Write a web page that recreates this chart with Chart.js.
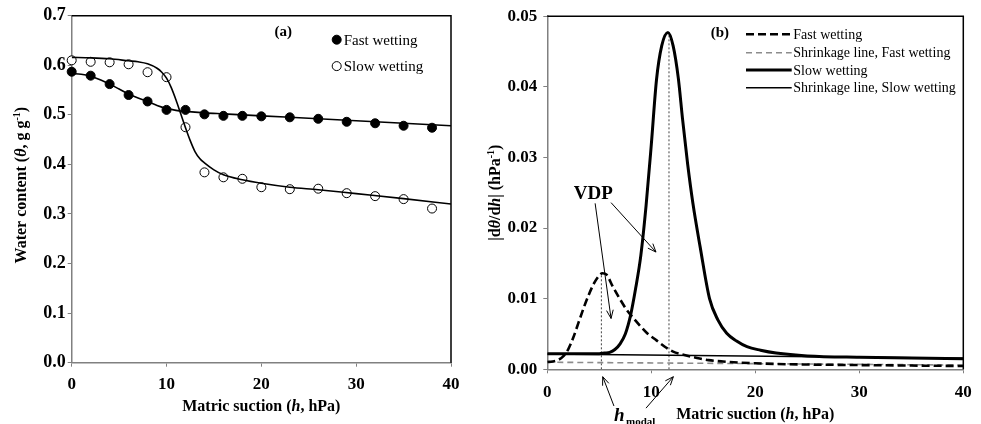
<!DOCTYPE html>
<html>
<head>
<meta charset="utf-8">
<script src="https://cdn.jsdelivr.net/npm/chart.js@4.4.1/dist/chart.umd.min.js"></script>
<style>
body { margin: 0; background: #fff; width: 981px; height: 424px; overflow: hidden; position: relative; }
#wrapA { position: absolute; left: 0; top: 0; width: 490px; height: 424px; }
#wrapB { position: absolute; left: 470px; top: 0; width: 511px; height: 424px; }
</style>
</head>
<body>
<div id="wrapA"><canvas id="chartA"></canvas></div>
<div id="wrapB"><canvas id="chartB"></canvas></div>
<script>
/*------------------------------ data ------------------------------*/
// (a) measured water content
const hMeas = [0, 2, 4, 6, 8, 10, 12, 14, 16, 18, 20, 23, 26, 29, 32, 35, 38];
const thetaFast = [0.587, 0.579, 0.562, 0.540, 0.527, 0.510, 0.510, 0.501, 0.498, 0.498, 0.497, 0.495, 0.492, 0.486, 0.483, 0.478, 0.474];
const thetaSlow = [0.610, 0.607, 0.606, 0.602, 0.586, 0.576, 0.475, 0.384, 0.374, 0.371, 0.354, 0.350, 0.351, 0.342, 0.336, 0.330, 0.311];

// (a) fitted curves
const fitFastH = [0, 1, 2, 3, 4, 5, 6, 7, 8, 9, 10, 11, 12, 14, 16, 20, 25, 30, 35, 40];
const fitFast = [0.583, 0.582, 0.578, 0.571, 0.562, 0.552, 0.542, 0.534, 0.527, 0.519, 0.513, 0.509, 0.507, 0.504, 0.502, 0.498, 0.493, 0.488, 0.483, 0.478];
const fitSlowH = [0, 2, 4, 6, 7, 8, 9, 9.5, 10, 10.5, 11, 11.5, 12, 12.5, 13, 13.5, 14, 15, 16, 18, 20, 23, 26, 30, 35, 40];
const fitSlow = [0.616, 0.615, 0.613, 0.609, 0.607, 0.603, 0.594, 0.586, 0.574, 0.555, 0.530, 0.502, 0.474, 0.448, 0.426, 0.412, 0.403, 0.389, 0.379, 0.369, 0.362, 0.354, 0.349, 0.341, 0.331, 0.320];

// (b) |dθ/dh|
const dFastH = [0, 0.5, 1, 1.5, 2, 2.5, 3, 3.5, 4, 4.5, 5, 5.3, 5.7, 6.3, 7, 7.6, 8.3, 8.9, 9.6, 10.5, 11.3, 12.1, 13, 14.4, 15.5, 16.9, 18.5, 20, 23, 26.5, 30, 35, 40];
const dFast = [0.00103, 0.0011, 0.0013, 0.0018, 0.0028, 0.0045, 0.0066, 0.0087, 0.0106, 0.0122, 0.0133, 0.0136, 0.0134, 0.0117, 0.0099, 0.0085, 0.0072, 0.0062, 0.0051, 0.0041, 0.0032, 0.0025, 0.0021, 0.0016, 0.0013, 0.0011, 0.00095, 0.00085, 0.00072, 0.00065, 0.0006, 0.00053, 0.00047];
const dSlowH = [0, 2, 4, 5, 5.5, 6, 6.5, 7, 7.5, 8, 8.5, 9, 9.5, 10, 10.5, 11, 11.6, 12.1, 12.6, 13, 13.5, 14, 14.7, 15.6, 16.4, 17.25, 18.2, 19.2, 20.5, 22, 25, 30, 35, 40];
const dSlow = [0.0022, 0.0022, 0.0022, 0.0022, 0.0023, 0.0024, 0.0028, 0.0036, 0.0050, 0.0076, 0.0115, 0.0162, 0.0232, 0.0318, 0.0410, 0.0458, 0.0477, 0.0458, 0.0412, 0.0355, 0.0290, 0.0235, 0.0173, 0.0100, 0.0070, 0.0051, 0.0040, 0.0032, 0.0027, 0.0023, 0.0019, 0.0017, 0.0016, 0.0015];

// shrinkage lines
const shrinkH = [0, 40];
const shrinkFast = [0.0010, 0.0006];
const shrinkSlow = [0.00218, 0.00155];

// modal suction
const modalH = [5.2, 11.7];
const modalPeak = [0.0136, 0.0477];

const seriesA = ['Fast wetting', 'Slow wetting'];
const seriesB = ['Fast wetting', 'Shrinkage line, Fast wetting', 'Slow wetting', 'Shrinkage line, Slow wetting'];
const xTicks = [0, 10, 20, 30, 40];
const yTicksA = [0, 0.1, 0.2, 0.3, 0.4, 0.5, 0.6, 0.7];
const yTicksB = [0, 0.01, 0.02, 0.03, 0.04, 0.05];

/*----------------------------- helpers -----------------------------*/
const SERIF = "'Liberation Serif', 'Times New Roman', serif";
const pts = (xs, ys) => xs.map((x, i) => ({ x: x, y: ys[i] }));

// 粗體文字, 可含斜體/上下標
function richText(ctx, segs, x, y, angle, size) {
    ctx.save();
    ctx.translate(x, y);
    ctx.rotate(angle);
    let w = 0;
    const parts = segs.map(s => {
        const sz = (s.sup || s.sub) ? size * 0.62 : size;
        const font = (s.i ? 'italic ' : '') + (s.n ? '' : 'bold ') + sz + 'px ' + SERIF;
        ctx.font = font;
        const pw = ctx.measureText(s.t).width;
        w += pw;
        return { s: s, font: font, pw: pw };
    });
    let cx = -w / 2;
    ctx.textBaseline = 'alphabetic';
    ctx.textAlign = 'left';
    ctx.fillStyle = '#000';
    parts.forEach(p => {
        ctx.font = p.font;
        const dy = p.s.sup ? -size * 0.4 : (p.s.sub ? size * 0.25 : 0);
        ctx.fillText(p.s.t, cx, dy);
        cx += p.pw;
    });
    ctx.restore();
}

function arrow(ctx, x1, y1, x2, y2) {
    const a = Math.atan2(y2 - y1, x2 - x1);
    const L = 9, sp = 0.38;
    ctx.beginPath();
    ctx.moveTo(x1, y1);
    ctx.lineTo(x2, y2);
    ctx.moveTo(x2 - L * Math.cos(a - sp), y2 - L * Math.sin(a - sp));
    ctx.lineTo(x2, y2);
    ctx.lineTo(x2 - L * Math.cos(a + sp), y2 - L * Math.sin(a + sp));
    ctx.stroke();
}

function frame(chart) {
    const ctx = chart.ctx, a = chart.chartArea;
    ctx.save();
    ctx.strokeStyle = '#000';
    ctx.lineWidth = 1.5;
    ctx.beginPath();
    ctx.moveTo(a.left, a.top);
    ctx.lineTo(a.right, a.top);
    ctx.lineTo(a.right, a.bottom);
    ctx.stroke();
    ctx.restore();
}

function axisX(ticks, fontSize, tl, pad, h) {
    return {
        type: 'linear', min: 0, max: 40,
        afterFit: s => { s.height = h; },
        afterBuildTicks: s => { s.ticks = ticks.map(v => ({ value: v })); },
        ticks: { color: '#000', padding: pad, autoSkip: false, maxRotation: 0,
            font: { family: SERIF, size: fontSize, weight: 'bold' } },
        grid: { drawOnChartArea: false, tickLength: tl, color: '#808080' },
        border: { color: '#808080', width: 1.5 }
    };
}

function axisY(ticks, max, digits, fontSize, tl, pad, w) {
    return {
        type: 'linear', min: 0, max: max,
        afterFit: s => { s.width = w; },
        afterBuildTicks: s => { s.ticks = ticks.map(v => ({ value: v })); },
        ticks: { color: '#000', padding: pad, autoSkip: false,
            callback: v => Number(v).toFixed(digits),
            font: { family: SERIF, size: fontSize, weight: 'bold' } },
        grid: { drawOnChartArea: false, tickLength: tl, color: '#808080' },
        border: { color: '#808080', width: 1.5 }
    };
}

/*------------------------------ chart a ------------------------------*/
const decoA = {
    id: 'decoA',
    afterDraw(chart) {
        const ctx = chart.ctx, a = chart.chartArea;
        const xs = chart.scales.x, ys = chart.scales.y;
        frame(chart);
        // panel label
        richText(ctx, [{ t: '(a)' }], xs.getPixelForValue(22.3), ys.getPixelForValue(0.669) + 5, 0, 15);
        // axis titles
        richText(ctx, [{ t: 'Matric suction (' }, { t: 'h', i: true }, { t: ', hPa)' }],
            (a.left + a.right) / 2, 411, 0, 16);
        richText(ctx, [{ t: 'Water content (' }, { t: 'θ', i: true }, { t: ', g g' }, { t: '-1', sup: true }, { t: ')' }],
            26, (a.top + a.bottom) / 2 - 4, -Math.PI / 2, 16);
        // legend
        ctx.save();
        ctx.font = '15px ' + SERIF;
        ctx.textBaseline = 'middle';
        ctx.fillStyle = '#000';
        seriesA.forEach((name, i) => {
            const ds = chart.data.datasets[i + 2];
            const mx = a.left + 265, my = a.top + 24 + i * 26.4;
            ctx.beginPath();
            ctx.arc(mx, my, 4.5, 0, Math.PI * 2);
            ctx.fillStyle = ds.pointBackgroundColor;
            ctx.fill();
            ctx.lineWidth = 1;
            ctx.strokeStyle = '#000';
            ctx.stroke();
            ctx.fillStyle = '#000';
            ctx.fillText(name, mx + 7, my + 1);
        });
        ctx.restore();
    }
};

new Chart(document.getElementById('chartA'), {
    type: 'scatter',
    data: {
        datasets: [
            { label: 'fit fast', data: pts(fitFastH, fitFast), showLine: true, pointRadius: 0,
              borderColor: '#000', borderWidth: 1.6, cubicInterpolationMode: 'monotone' },
            { label: 'fit slow', data: pts(fitSlowH, fitSlow), showLine: true, pointRadius: 0,
              borderColor: '#000', borderWidth: 1.6, cubicInterpolationMode: 'monotone' },
            { label: seriesA[0], data: pts(hMeas, thetaFast), pointRadius: 4.5, pointBackgroundColor: '#000',
              pointBorderColor: '#000', pointBorderWidth: 1, clip: false },
            { label: seriesA[1], data: pts(hMeas, thetaSlow), pointRadius: 4.5, pointBackgroundColor: '#fff',
              pointBorderColor: '#000', pointBorderWidth: 1, clip: false }
        ]
    },
    options: {
        responsive: true,
        maintainAspectRatio: false,
        animation: false,
        layout: { padding: { left: 0, top: 15.7, right: 39, bottom: 0 } },
        plugins: { legend: { display: false }, tooltip: { enabled: false } },
        scales: {
            x: axisX(xTicks, 17, 4, 8, 61.3),
            y: axisY(yTicksA, 0.7, 1, 18, 4, 2, 71.7)
        }
    },
    plugins: [decoA]
});

/*------------------------------ chart b ------------------------------*/
const styleB = [
    { color: '#000', width: 2.6, dash: [8, 4] },
    { color: '#8c8c8c', width: 1.6, dash: [6, 4] },
    { color: '#000', width: 3, dash: [] },
    { color: '#000', width: 1.5, dash: [] }
];

const decoB = {
    id: 'decoB',
    afterDraw(chart) {
        const ctx = chart.ctx, a = chart.chartArea;
        const xs = chart.scales.x, ys = chart.scales.y;
        const px = h => xs.getPixelForValue(h), py = v => ys.getPixelForValue(v);
        frame(chart);
        richText(ctx, [{ t: '(b)' }], px(16.6), py(0.0477) + 5, 0, 15);
        richText(ctx, [{ t: 'Matric suction (' }, { t: 'h', i: true }, { t: ', hPa)' }],
            (a.left + a.right) / 2, 419, 0, 16);
        richText(ctx, [{ t: '|d' }, { t: 'θ', i: true }, { t: '/d' }, { t: 'h', i: true }, { t: '| (hPa' },
            { t: '-1', sup: true }, { t: ')' }],
            30, (a.top + a.bottom) / 2, -Math.PI / 2, 16);
        // annotations
        ctx.save();
        ctx.strokeStyle = '#000';
        ctx.lineWidth = 1;
        richText(ctx, [{ t: 'VDP' }], px(4.42), py(0.0250) + 6, 0, 19);
        arrow(ctx, px(4.6), py(0.0235), px(6.13), py(0.0072));
        arrow(ctx, px(6.13), py(0.0236), px(10.45), py(0.0166));
        arrow(ctx, px(6.41), py(-0.0052), px(5.33), py(-0.00105));
        arrow(ctx, px(9.49), py(-0.0055), px(12.12), py(-0.00105));
        ctx.restore();
        ctx.save();
        ctx.fillStyle = '#000';
        ctx.textBaseline = 'alphabetic';
        ctx.font = 'italic bold 19px ' + SERIF;
        ctx.fillText('h', px(6.41), 421);
        ctx.font = 'bold 11px ' + SERIF;
        ctx.fillText('modal', px(6.41) + 12, 425);
        ctx.restore();
        // legend
        ctx.save();
        ctx.font = '14px ' + SERIF;
        ctx.textBaseline = 'middle';
        ctx.fillStyle = '#000';
        const lx = 746 - 470, rows = [34.3, 52.7, 70, 87.7];
        seriesB.forEach((name, i) => {
            const st = styleB[i];
            ctx.beginPath();
            ctx.setLineDash(st.dash);
            ctx.strokeStyle = st.color;
            ctx.lineWidth = st.width;
            ctx.moveTo(lx, rows[i]);
            ctx.lineTo(lx + 45.7, rows[i]);
            ctx.stroke();
            ctx.setLineDash([]);
            ctx.fillText(name, lx + 47.3, rows[i] + 1);
        });
        ctx.restore();
    }
};

const lineDs = (label, xs, ys, st) => ({
    label: label, data: pts(xs, ys), showLine: true, pointRadius: 0,
    borderColor: st.color, borderWidth: st.width, borderDash: st.dash,
    cubicInterpolationMode: 'monotone'
});

new Chart(document.getElementById('chartB'), {
    type: 'scatter',
    data: {
        datasets: [
            lineDs(seriesB[2], dSlowH, dSlow, styleB[2]),
            lineDs(seriesB[0], dFastH, dFast, styleB[0]),
            lineDs(seriesB[3], shrinkH, shrinkSlow, styleB[3]),
            lineDs(seriesB[1], shrinkH, shrinkFast, styleB[1]),
            { label: 'modal 1', data: [{ x: modalH[0], y: 0 }, { x: modalH[0], y: modalPeak[0] }], showLine: true,
              pointRadius: 0, borderColor: '#444', borderWidth: 1, borderDash: [2, 2] },
            { label: 'modal 2', data: [{ x: modalH[1], y: 0 }, { x: modalH[1], y: modalPeak[1] }], showLine: true,
              pointRadius: 0, borderColor: '#444', borderWidth: 1, borderDash: [2, 2] }
        ]
    },
    options: {
        responsive: true,
        maintainAspectRatio: false,
        animation: false,
        layout: { padding: { left: 0, top: 15.7, right: 17.7, bottom: 0 } },
        plugins: { legend: { display: false }, tooltip: { enabled: false } },
        scales: {
            x: axisX(xTicks, 17, 4, 9, 54.7),
            y: axisY(yTicksB, 0.05, 2, 17, 4, 6, 77.3)
        }
    },
    plugins: [decoB]
});
</script>
</body>
</html>
